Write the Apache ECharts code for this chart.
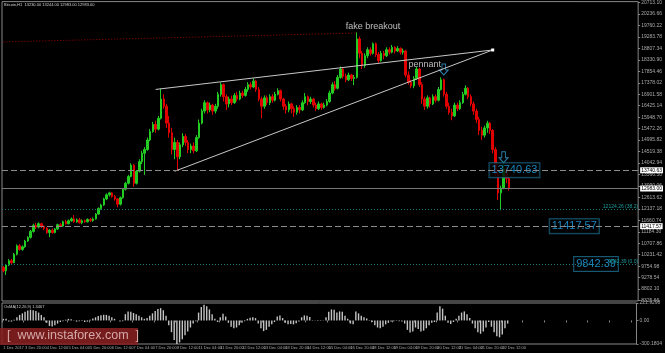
<!DOCTYPE html>
<html>
<head>
<meta charset="utf-8">
<title>Bitcoin H1</title>
<style>
  html, body { margin: 0; padding: 0; background: #000; }
  #chart { width: 665px; height: 353px; }
</style>
</head>
<body>
<div id="chart"></div>
<script src="https://cdn.jsdelivr.net/npm/echarts@6.0.0/dist/echarts.min.js"></script>
<script>
// 2-hour bars, [open, close, low, high]
var candles = [
  [9700, 9560, 9500, 9760], [9560, 9800, 9390, 9850], [9800, 9980, 9760, 10050], [9980, 9900, 9850, 10060],
  [9900, 10250, 9880, 10300], [10250, 10600, 10200, 10660], [10600, 10450, 10400, 10680], [10450, 10560, 10400, 10620],
  [10560, 10800, 10520, 10850], [10800, 10950, 10760, 11000], [10950, 11200, 10900, 11260], [11200, 11450, 11150, 11520],
  [11450, 11380, 11300, 11560], [11380, 11520, 11330, 11580], [11520, 11400, 11340, 11560], [11400, 11330, 11250, 11450],
  [11330, 11150, 11100, 11380], [11150, 11250, 10960, 11300], [11250, 11150, 11100, 11320], [11150, 11300, 11120, 11340],
  [11300, 11480, 11260, 11520], [11480, 11420, 11380, 11550], [11420, 11600, 11390, 11650], [11600, 11520, 11480, 11680],
  [11520, 11640, 11490, 11700], [11640, 11720, 11600, 11780], [11720, 11600, 11560, 11880], [11600, 11680, 11560, 11740],
  [11680, 11560, 11520, 11760], [11560, 11640, 11500, 11700], [11640, 11600, 11560, 11700], [11600, 11700, 11570, 11740],
  [11700, 11650, 11590, 11760], [11650, 11720, 11600, 11780], [11720, 11920, 11690, 11960], [11920, 12150, 11890, 12200],
  [12150, 12300, 12100, 12350], [12300, 12550, 12260, 12600], [12550, 12720, 12500, 12780], [12720, 12800, 12650, 12850],
  [12800, 12650, 12600, 12830], [12650, 12550, 12480, 12720], [12550, 12330, 12200, 12580], [12330, 12600, 12280, 12650],
  [12600, 12950, 12560, 13000], [12950, 13200, 12900, 13260], [13200, 13480, 13150, 13550], [13480, 13950, 13450, 14030],
  [13950, 13200, 13050, 14000], [13200, 13700, 13150, 13750], [13700, 14100, 13650, 14200], [14100, 14450, 14000, 14550],
  [14450, 14600, 13550, 14700], [14600, 15000, 14550, 15100], [15000, 15350, 14950, 15450], [15350, 15650, 15300, 15750],
  [15650, 15450, 15300, 15800], [15450, 15900, 15400, 16000], [15900, 16700, 15850, 17140], [16700, 16400, 16300, 16900],
  [16400, 15700, 15500, 16500], [15700, 15300, 15100, 16000], [15300, 14600, 14400, 15500], [14600, 14900, 14200, 15100],
  [14900, 14300, 13720, 15000], [14300, 14800, 14200, 14900], [14800, 15150, 14700, 15280], [15150, 14900, 14750, 15250],
  [14900, 14600, 14450, 15000], [14600, 14750, 14450, 14850], [14750, 14550, 14450, 14900], [14550, 15100, 14500, 15200],
  [15100, 15700, 15050, 15850], [15700, 16200, 15650, 16300], [16200, 16550, 16100, 16650], [16550, 16250, 16100, 16600],
  [16250, 16450, 16150, 16550], [16450, 16200, 16050, 16500], [16200, 16400, 16100, 16500], [16400, 16900, 16300, 17000],
  [16900, 17300, 16800, 17390], [17300, 16800, 16600, 17350], [16800, 16500, 16250, 16900], [16500, 16700, 16350, 16800],
  [16700, 16550, 16450, 16850], [16550, 16850, 16500, 16950], [16850, 16700, 16600, 17000], [16700, 16950, 16650, 17050],
  [16950, 16850, 16750, 17050], [16850, 17100, 16800, 17200], [17100, 17300, 17000, 17400], [17300, 17200, 17100, 17400],
  [17200, 17450, 17150, 17560], [17450, 17100, 17000, 17500], [17100, 16700, 16600, 17200], [16700, 16400, 15900, 16800],
  [16400, 16750, 16300, 16850], [16750, 16550, 16450, 16850], [16550, 16800, 16450, 16900], [16800, 16650, 16550, 16900],
  [16650, 16900, 16600, 17000], [16900, 17050, 16850, 17150], [17050, 16700, 16600, 17100], [16700, 16400, 16250, 16750],
  [16400, 16250, 16100, 16500], [16250, 16500, 16150, 16600], [16500, 16300, 16100, 16550], [16300, 16150, 15950, 16400],
  [16150, 16350, 16050, 16450], [16350, 16250, 16100, 16450], [16250, 16550, 16200, 16650], [16550, 16800, 16500, 16950],
  [16800, 16600, 16450, 16850], [16600, 16700, 16500, 16800], [16700, 16450, 16350, 16750], [16450, 16300, 16200, 16550],
  [16300, 16500, 16250, 16600], [16500, 16350, 16250, 16550], [16350, 16450, 16300, 16550], [16450, 16600, 16400, 16700],
  [16600, 16950, 16550, 17050], [16950, 17300, 16900, 17400], [17300, 17150, 17050, 17450], [17150, 17600, 17100, 17700],
  [17600, 17950, 17550, 18050], [17950, 17650, 17550, 18000], [17650, 17500, 17400, 17750], [17500, 17700, 17450, 17800],
  [17700, 17550, 17450, 17750], [17550, 17600, 17280, 17700], [17600, 19200, 17550, 19470], [19200, 18600, 18400, 19300],
  [18600, 18100, 17950, 18700], [18100, 18500, 18000, 18600], [18500, 18750, 18400, 18850], [18750, 18600, 18500, 18850],
  [18600, 19000, 18550, 19050], [19000, 18550, 18450, 19050], [18550, 18300, 18200, 18650], [18300, 18600, 18250, 18700],
  [18600, 18500, 18350, 18700], [18500, 18750, 18450, 18850], [18750, 18650, 18550, 18850], [18650, 18850, 18600, 18950],
  [18850, 18700, 18600, 18900], [18700, 18800, 18650, 18900], [18800, 18650, 18550, 18850], [18650, 18700, 18550, 18800],
  [18700, 17700, 17600, 18750], [17700, 17400, 17300, 17850], [17400, 17250, 17150, 17500], [17250, 17550, 17150, 17650],
  [17550, 17950, 17500, 18050], [17950, 17300, 17200, 18000], [17300, 16700, 16500, 17400], [16700, 16400, 16250, 16800],
  [16400, 16750, 16300, 16850], [16750, 16500, 16350, 16800], [16500, 16800, 16450, 16900], [16800, 16650, 16550, 16900],
  [16650, 17100, 16600, 17200], [17100, 17500, 17050, 17600], [17500, 16900, 16800, 17550], [16900, 16400, 16300, 17000],
  [16400, 16150, 16050, 16550], [16150, 16000, 15820, 16300], [16000, 16450, 15950, 16550], [16450, 16300, 16200, 16550],
  [16300, 16550, 16250, 16650], [16550, 16900, 16500, 17000], [16900, 17150, 16850, 17270], [17150, 16800, 16700, 17200],
  [16800, 16500, 16400, 16900], [16500, 16200, 16050, 16600], [16200, 15850, 15700, 16300], [15850, 15400, 15200, 15950],
  [15400, 15200, 15000, 15550], [15200, 15500, 15100, 15600], [15500, 15700, 15300, 15800], [15700, 15400, 15250, 15750],
  [15400, 14600, 14450, 15450], [14600, 13600, 13500, 14700], [13600, 12800, 12500, 13700], [12800, 13000, 12080, 13100],
  [13000, 13800, 12950, 14070], [13800, 13400, 13200, 13900], [13400, 12983, 12900, 13500]
];

// OsMA(12,26,9) histogram, one value per bar
var osma = [
  20, 20, -15, -15, 10, 40, 70, 90, 110, 125,
  136, 130, 120, 100, 70, 40, -30, -70, -77, -60,
  -40, -20, -10, 10, 20, 15, -5, -15, -10, 5,
  -20, -15, 10, 25, 40, 55, 65, 72, 70, 60,
  40, 20, 0, -15, -10, 80, 115, 110, 95, 80,
  60, 40, 20, 30, 60, 90, 120, 145, 157, 130,
  60, -60, -150, -250, -300, -280, -240, -190, -140, -90,
  -40, -10, 100, 170, 200, 180, 140, 80, 20, -20,
  40, 85, 50, -30, -80, -100, -90, -60, -30, -10,
  20, 35, 40, 30, -40, -100, -136, -120, -80, -50,
  -20, 50, 64, 30, -30, -50, -45, -50, -35, -15,
  40, 64, 60, 45, 5, -5, -8, -5, -3, 40,
  110, 140, 135, 100, 115, 110, 60, 20, -40, -50,
  115, 90, 60, 40, 25, -5, -20, -60, -90, -100,
  -80, -50, -30, -15, -10, -5, -10, -15, -40, -120,
  -155, -140, -90, -110, -140, -130, -100, -60, -30, -20,
  100, 180, 150, 60, -30, -45, -20, 20, 60, 100,
  115, 80, 30, -40, -100, -150, -170, -140, -90, -20,
  -80, -150, -200, -215, -180, -100, -40
];

var timeLabels = [
  '1 Dec 2017', '3 Dec 20:00', '4 Dec 12:00', '5 Dec 04:00', '5 Dec 20:00', '6 Dec 12:00',
  '7 Dec 04:00', '7 Dec 20:00', '8 Dec 12:00', '11 Dec 04:00', '11 Dec 20:00', '12 Dec 12:00',
  '13 Dec 04:00', '13 Dec 20:00', '14 Dec 12:00', '15 Dec 04:00', '15 Dec 20:00', '18 Dec 12:00',
  '19 Dec 04:00', '19 Dec 20:00', '20 Dec 12:00', '21 Dec 04:00', '21 Dec 20:00', '22 Dec 12:00'
];

var priceTicks = [
  20713.10, 20236.66, 19760.22, 19283.78, 18807.34, 18330.90, 17854.46, 17378.02, 16901.58,
  16425.14, 15948.70, 15472.26, 14995.82, 14519.38, 14042.94, 13566.50, 13090.06, 12613.62,
  12137.18, 11660.74, 11184.30, 10707.86, 10231.42, 9754.98, 9278.54, 8802.10, 8325.66
];
var osmaTicks = [221.9298, 0, -300.1804];

// horizontal levels
var levelResist = 13740.63;
var levelLast = 12983.00;
var levelSupport = 11417.57;
var levelFiboMid = 12124.26;
var levelFiboLow = 9842.39;

// trend lines: [bar index, price]
var upperTrend = [[56, 17100], [180, 18740]];
var lowerTrend = [[63, 13700], [122, 16240], [180, 18740]];
var highTrend = [[0, 19075], [130, 19444]];

var slotCount = 234;
var slots = [];
for (var i = 0; i < slotCount; i++) slots.push(i);

var font = 'Liberation Sans';
var grey = '#8c8c8c';
var arrowPath = 'path://M3,0 L7,0 L7,6 L10,6 L5,11 L0,6 L3,6 Z';

function hLine(value, style, label) {
    return { yAxis: value, lineStyle: style, label: label };
}
function axisBox(text) {
    return {
        show: true, position: 'end', distance: 2, formatter: text,
        color: '#000', backgroundColor: '#fff', fontSize: 5, fontFamily: font,
        padding: [1, 1, 0, 1]
    };
}
function tealLabel(text) {
    return { show: true, position: 'insideEndTop', distance: 0, formatter: text, color: '#1e9a9a', fontSize: 5, fontFamily: font };
}
var boxLabel = {
    show: true, position: 'inside', color: '#1fa6ec', fontSize: 11, fontFamily: font,
    backgroundColor: '#000', borderColor: '#1d6e8e', borderWidth: 1, padding: [2, 2, 1, 2]
};
var noteLabel = { show: true, position: 'inside', color: '#e6e6e6', fontSize: 9, fontFamily: font };
function note(idx, price, text, style) {
    return { value: [idx, price], label: Object.assign({}, style, { formatter: text }) };
}

var myChart = echarts.init(document.getElementById('chart'));
var option = {
    backgroundColor: '#000',
    animation: false,
    grid: [
        { left: 2, right: 17, top: 1, height: 300, show: true, borderColor: '#888', borderWidth: 1 },
        { left: 2, right: 17, top: 303, height: 41, show: true, borderColor: '#888', borderWidth: 1 }
    ],
    xAxis: [
        { type: 'category', data: slots, gridIndex: 0, show: false, boundaryGap: true },
        {
            type: 'category', data: slots, gridIndex: 1, boundaryGap: true,
            axisLine: { show: false },
            axisTick: { show: true, interval: 7, length: 2, lineStyle: { color: '#888' } },
            axisLabel: {
                interval: 7, margin: 2, fontSize: 4, fontFamily: font, color: '#aaa', align: 'left',
                showMinLabel: true, hideOverlap: false,
                formatter: function (v, idx) { return timeLabels[idx / 8] || ''; }
            }
        }
    ],
    yAxis: [
        {
            type: 'value', gridIndex: 0, position: 'right', min: 8308, max: 20750, scale: true,
            splitLine: { show: false }, axisLine: { show: false },
            axisTick: { show: true, length: 2, customValues: priceTicks, lineStyle: { color: '#888' } },
            axisLabel: {
                customValues: priceTicks, fontSize: 5, fontFamily: font, color: '#aaa', margin: 3,
                formatter: function (v) { return v.toFixed(2); }
            }
        },
        {
            type: 'value', gridIndex: 1, position: 'right', min: -300.1804, max: 221.9298,
            splitLine: { show: false }, axisLine: { show: false },
            axisTick: { show: true, length: 2, customValues: osmaTicks, lineStyle: { color: '#888' } },
            axisLabel: {
                customValues: osmaTicks, fontSize: 5, fontFamily: font, color: '#aaa', margin: 3,
                formatter: function (v) { return v === 0 ? '0.00' : v.toFixed(4); }
            }
        }
    ],
    graphic: [
        { type: 'text', left: 4, top: 3, style: { text: 'Bitcoin,H1  13230.00 13244.00 12983.00 12983.00', fill: '#cfcfcf', font: '4px ' + font } },
        { type: 'text', left: 4, top: 305, style: { text: 'OsMA(12,26,9) 1.3467', fill: '#cfcfcf', font: '4px ' + font } },
        { type: 'rect', left: 0, top: 328, shape: { width: 138, height: 17 }, style: { fill: 'rgba(135,32,32,0.88)' } },
        { type: 'text', left: 7, top: 329, style: { text: '[  www.instaforex.com  ]', fill: '#d4a9a9', font: '12.5px ' + font } }
    ],
    series: [
        {
            type: 'candlestick', xAxisIndex: 0, yAxisIndex: 0, data: candles, barWidth: 2,
            itemStyle: { color: '#22cc22', color0: '#e00000', borderColor: '#22cc22', borderColor0: '#e00000', borderWidth: 1 },
            markLine: {
                silent: true, symbol: ['none', 'none'],
                data: [
                    hLine(levelResist, { color: grey, type: [6, 3], width: 1 }, axisBox('13740.63')),
                    hLine(levelLast, { color: '#777', type: 'solid', width: 1 }, axisBox('12983.00')),
                    hLine(levelSupport, { color: grey, type: [6, 3], width: 1 }, axisBox('11417.57')),
                    hLine(levelFiboMid, { color: '#1a7a7a', type: [1, 2], width: 1 }, tealLabel('12124.26 (38.2)')),
                    hLine(levelFiboLow, { color: '#1a7a7a', type: [1, 2], width: 1 }, tealLabel('9842.39 (0.0)'))
                ]
            }
        },
        {
            type: 'line', xAxisIndex: 0, yAxisIndex: 0, data: highTrend, showSymbol: false,
            lineStyle: { color: '#a30000', type: [1, 2], width: 1 }
        },
        {
            type: 'line', xAxisIndex: 0, yAxisIndex: 0, data: upperTrend, showSymbol: false,
            lineStyle: { color: '#c8c8c8', width: 1 }
        },
        {
            type: 'line', xAxisIndex: 0, yAxisIndex: 0, data: lowerTrend, symbol: 'rect', symbolSize: 3,
            itemStyle: { color: '#fff' }, lineStyle: { color: '#c8c8c8', width: 1 }
        },
        {
            type: 'scatter', xAxisIndex: 0, yAxisIndex: 0, symbolSize: 0, silent: true,
            data: [
                note(135.5, 19713, 'fake breakout', noteLabel),
                note(154.5, 18137, 'pennant', noteLabel),
                note(188, levelResist, '13740.63', boxLabel),
                note(210, levelSupport, '11417.57', boxLabel),
                note(218, levelFiboLow, '9842.39', boxLabel)
            ]
        },
        {
            type: 'scatter', xAxisIndex: 0, yAxisIndex: 0, silent: true,
            symbol: arrowPath, symbolSize: [9, 11],
            itemStyle: { color: 'rgba(0,0,0,0)', borderColor: '#3a9fd4', borderWidth: 1 },
            data: [[162, 17930], [184, 14281]]
        },
        {
            type: 'bar', xAxisIndex: 1, yAxisIndex: 1, data: osma, barWidth: 1.4,
            itemStyle: { color: '#c4c4c4' }
        }
    ]
};
myChart.setOption(option);
</script>
</body>
</html>
